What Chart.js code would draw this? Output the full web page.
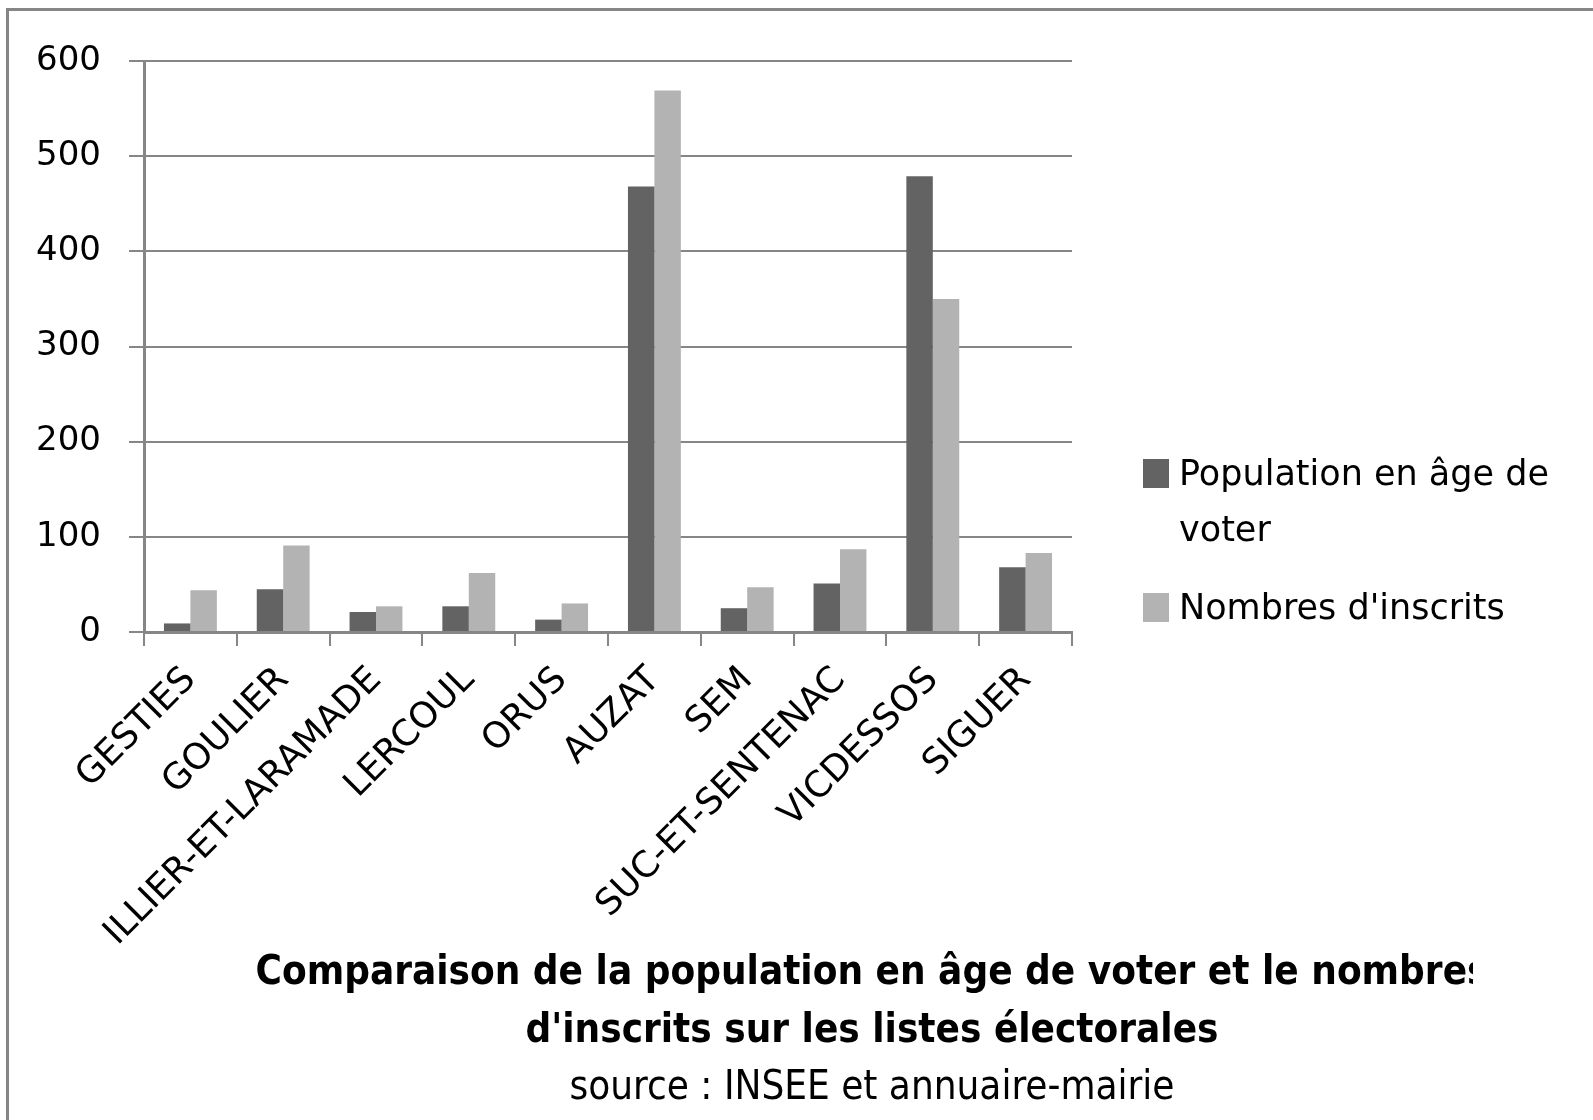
<!DOCTYPE html>
<html>
<head>
<meta charset="utf-8">
<script src="https://cdn.jsdelivr.net/npm/chart.js@4"></script>
<style>
    body { margin: 0; background: #fff; }
    #wrap { position: relative; width: 1593px; height: 1120px; }
    #cadre { position: absolute; left: 6px; top: 8px; right: -10px; bottom: -10px; border-left: 3px solid #868686; border-top: 3px solid #868686; }
    canvas { position: absolute; left: 0; top: 0; }
</style>
</head>
<body>
<div id="wrap">
    <div id="cadre"></div>
    <canvas id="chartCommunes" width="1593" height="1120"></canvas>
</div>
<script>
var communes = ["GESTIES", "GOULIER", "ILLIER-ET-LARAMADE", "LERCOUL", "ORUS", "AUZAT", "SEM", "SUC-ET-SENTENAC", "VICDESSOS", "SIGUER"];
var populationVoter = [9, 45, 21, 27, 13, 468, 25, 51, 479, 68];
var nombresInscrits = [44, 91, 27, 62, 30, 569, 47, 87, 350, 83];
var yTicks = [0, 100, 200, 300, 400, 500, 600];
var titreLignes = ["Comparaison de la population en âge de voter et le nombres", "d'inscrits sur les listes électorales"];
var sourceTexte = "source : INSEE et annuaire-mairie";

var police = "'DejaVu Sans', sans-serif";
var policeEtroite = "'DejaVu Sans Condensed', 'DejaVu Sans', sans-serif";
var gris = "#868686";

// legende a droite, avec retour a la ligne
var legendeDroite = {
    id: "legendeDroite",
    afterDraw: function (chart) {
        var ctx = chart.ctx;
        var datasets = chart.data.datasets;
        var x = 1143, y = 459, maxW = 410;
        ctx.save();
        ctx.font = "35px " + police;
        ctx.textBaseline = "alphabetic";
        ctx.textAlign = "left";
        for (var i = 0; i < datasets.length; i++) {
            var mots = datasets[i].label.split(" ");
            var lignes = [];
            var courante = "";
            for (var j = 0; j < mots.length; j++) {
                var essai = courante ? courante + " " + mots[j] : mots[j];
                if (ctx.measureText(essai).width > maxW && courante) {
                    lignes.push(courante);
                    courante = mots[j];
                } else {
                    courante = essai;
                }
            }
            lignes.push(courante);
            ctx.fillStyle = datasets[i].backgroundColor;
            ctx.fillRect(x, y, 26, 29);
            ctx.fillStyle = "#000";
            for (var k = 0; k < lignes.length; k++) {
                ctx.fillText(lignes[k], x + 36, y + 26 + k * 56);
            }
            y += 134;
        }
        ctx.restore();
    }
};

// titre en bas, coupe a droite comme dans l'original
var titreBas = {
    id: "titreBas",
    afterDraw: function (chart) {
        var ctx = chart.ctx;
        var cx = 872;
        ctx.save();
        ctx.beginPath();
        ctx.rect(0, 900, 1473, 220);
        ctx.clip();
        ctx.fillStyle = "#000";
        ctx.textAlign = "center";
        ctx.textBaseline = "middle";
        ctx.font = "bold 40px " + policeEtroite;
        ctx.fillText(titreLignes[0], cx, 974);
        ctx.fillText(titreLignes[1], cx, 1032);
        ctx.font = "40px " + policeEtroite;
        ctx.fillText(sourceTexte, cx, 1089);
        ctx.restore();
    }
};

new Chart("chartCommunes", {
    type: "bar",
    data: {
        labels: communes,
        datasets: [
            {
                label: "Population en âge de voter",
                data: populationVoter,
                backgroundColor: "#636363",
                barPercentage: 1,
                categoryPercentage: 0.57
            },
            {
                label: "Nombres d'inscrits",
                data: nombresInscrits,
                backgroundColor: "#b3b3b3",
                barPercentage: 1,
                categoryPercentage: 0.57
            }
        ]
    },
    options: {
        responsive: false,
        devicePixelRatio: 1,
        animation: false,
        layout: { padding: { top: 61, right: 521, left: 0, bottom: 0 } },
        plugins: {
            legend: { display: false },
            title: { display: false },
            tooltip: { enabled: false }
        },
        scales: {
            x: {
                grid: {
                    offset: true,
                    drawOnChartArea: false,
                    drawTicks: true,
                    tickLength: 14,
                    color: gris,
                    lineWidth: 2
                },
                border: { color: gris, width: 3 },
                ticks: {
                    autoSkip: false,
                    maxRotation: 45,
                    minRotation: 45,
                    padding: 13,
                    color: "#000",
                    font: { family: police, size: 36 }
                },
                afterFit: function (scale) { scale.height = 488; }
            },
            y: {
                min: 0,
                max: 600,
                afterBuildTicks: function (scale) {
                    scale.ticks = yTicks.map(function (v) { return { value: v }; });
                },
                grid: {
                    color: gris,
                    lineWidth: 2,
                    tickLength: 15
                },
                border: { color: gris, width: 3 },
                ticks: {
                    padding: 28,
                    color: "#000",
                    font: { family: police, size: 34 }
                },
                afterFit: function (scale) { scale.width = 144; }
            }
        }
    },
    plugins: [legendeDroite, titreBas]
});
</script>
</body>
</html>
